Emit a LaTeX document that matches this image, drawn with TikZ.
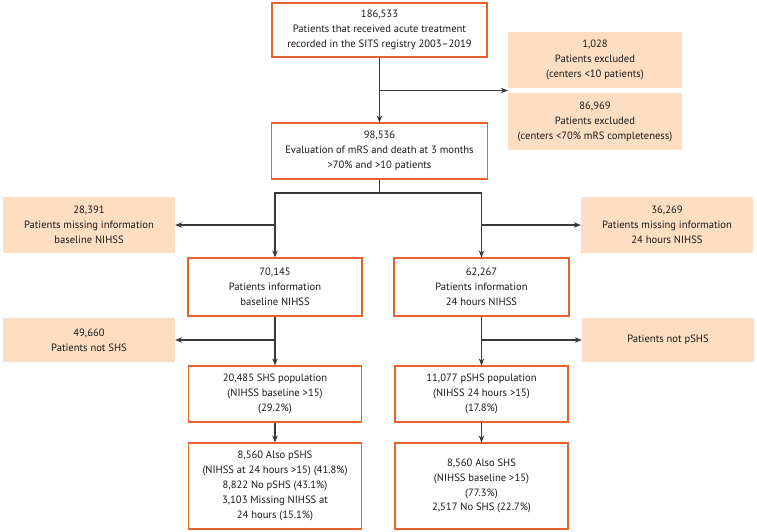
\documentclass[tikz,border=0pt]{standalone}
\usepackage{fontspec}
\setmainfont{PT Sans}
\usetikzlibrary{arrows.meta,calc}
\definecolor{boxline}{HTML}{E8622F}
\definecolor{peach}{HTML}{FDDEC2}
\definecolor{conn}{HTML}{3A3A3A}
\tikzset{
  base/.style={align=center, inner sep=0pt, font=\fontsize{10.6}{14.9}\selectfont, text=black!90},
  mainbox/.style={base, draw=boxline, line width=1.1pt, fill=white},
  exbox/.style={base, fill=peach},
  conn/.style={draw=conn, line width=1.1pt},
  arr/.style={conn, -{Stealth[length=7pt,width=5.5pt]}}
}
\begin{document}
\begin{tikzpicture}[x=1pt,y=-1pt]
\useasboundingbox (0,0) rectangle (757,531);
\node[mainbox, minimum width=215pt, minimum height=54pt] (top) at (379.5,30) {186,533\\Patients that received acute treatment\\recorded in the SITS registry 2003–2019};
\node[exbox, minimum width=174pt, minimum height=56pt] (exc1) at (595,60) {1,028\\Patients excluded\\(centers <10 patients)};
\node[exbox, minimum width=174pt, minimum height=57pt] (exc2) at (595,121.5) {86,969\\Patients excluded\\(centers <70\% mRS completeness)};
\node[mainbox, minimum width=216pt, minimum height=56pt] (eval) at (379.5,151) {98,536\\Evaluation of mRS and death at 3 months\\>70\% and >10 patients};
\node[exbox, minimum width=172pt, minimum height=56pt] (miss1) at (89,225) {28,391\\Patients missing information\\baseline NIHSS};
\node[exbox, minimum width=172pt, minimum height=56pt] (miss2) at (667,225) {36,269\\Patients missing information\\24 hours NIHSS};
\node[mainbox, minimum width=174pt, minimum height=58pt] (info1) at (275,287) {70,145\\Patients information\\baseline NIHSS};
\node[mainbox, minimum width=175pt, minimum height=58pt] (info2) at (481.5,287) {62,267\\Patients information\\24 hours NIHSS};
\node[exbox, minimum width=172pt, minimum height=44pt] (notshs) at (89,340) {49,660\\Patients not SHS};
\node[exbox, minimum width=172pt, minimum height=44pt] (notpshs) at (668,340) {Patients not pSHS};
\node[mainbox, minimum width=173pt, minimum height=56pt] (shs) at (275,394) {20,485 SHS population\\(NIHSS baseline >15)\\(29.2\%)};
\node[mainbox, minimum width=173pt, minimum height=56pt] (pshs) at (481.5,394) {11,077 pSHS population\\(NIHSS 24 hours >15)\\(17.8\%)};
\node[mainbox, minimum width=173pt, minimum height=86pt] (also1) at (275,486) {8,560 Also pSHS\\(NIHSS at 24 hours >15) (41.8\%)\\8,822 No pSHS (43.1\%)\\3,103 Missing NIHSS at\\24 hours (15.1\%)};
\node[mainbox, minimum width=173pt, minimum height=86pt] (also2) at (481.5,486) {8,560 Also SHS\\(NIHSS baseline >15)\\(77.3\%)\\2,517 No SHS (22.7\%)};
% connectors
\coordinate (exgap) at ($(exc1.south west)!0.5!(exc2.north west)$);
\draw[arr] (top.south) -- (eval.north);
\draw[arr] (top.south |- exgap) -- (exgap);
\coordinate (split) at (379.5,193);
\draw[conn] (eval.south) -- (split);
\draw[arr] (split) -| (info1.north);
\draw[arr] (split) -| (info2.north);
\draw[arr] (info1.north |- miss1.east) -- (miss1.east);
\draw[arr] (info2.north |- miss2.west) -- (miss2.west);
\draw[arr] (info1.south) -- (shs.north);
\draw[arr] (info2.south) -- (pshs.north);
\draw[arr] (info1.south |- notshs.east) -- (notshs.east);
\draw[arr] (info2.south |- notpshs.west) -- (notpshs.west);
\draw[arr] (shs.south) -- (also1.north);
\draw[arr] (pshs.south) -- (also2.north);
\end{tikzpicture}
\end{document}
